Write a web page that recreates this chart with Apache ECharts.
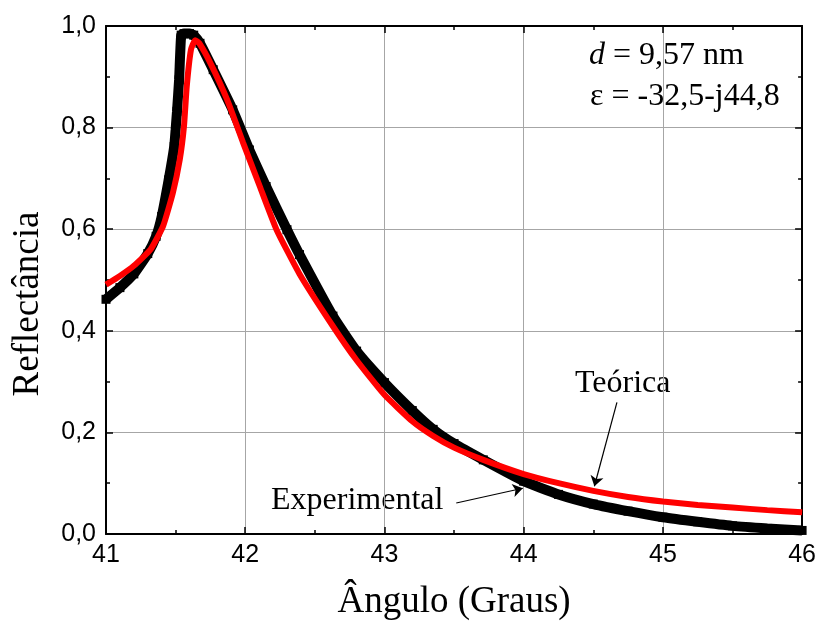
<!DOCTYPE html>
<html lang="pt">
<head>
  <meta charset="UTF-8">
  <title>Reflectância</title>
  <style>
    html, body { margin: 0; padding: 0; background: #fff; }
    #chart { width: 819px; height: 626px; }
  </style>
</head>
<body>
  <div id="chart"></div>
  <script src="https://cdn.jsdelivr.net/npm/echarts@6/dist/echarts.min.js"></script>
  <script>
    // dados
    var expAngulo = [41.00, 41.10, 41.20, 41.30, 41.36, 41.40, 41.45, 41.49, 41.50, 41.51, 41.525,
      41.54, 41.56, 41.60, 41.63, 41.675, 41.77, 41.91, 42.03, 42.15, 42.30, 42.39, 42.63, 42.80,
      43.00, 43.20, 43.35, 43.50, 43.71, 44.00, 44.25, 44.50, 44.75, 45.00, 45.25, 45.50, 45.75, 46.00];
    var expRefl = [0.462, 0.485, 0.512, 0.552, 0.586, 0.625, 0.697, 0.763, 0.796, 0.832, 0.894,
      0.982, 0.985, 0.985, 0.982, 0.966, 0.914, 0.835, 0.756, 0.684, 0.599, 0.550, 0.429, 0.360,
      0.298, 0.243, 0.206, 0.178, 0.146, 0.104, 0.078, 0.059, 0.045, 0.033, 0.024, 0.016, 0.011, 0.007];

    var teoAngulo = [41.00, 41.10, 41.20, 41.32, 41.41, 41.48, 41.53, 41.56, 41.58, 41.61, 41.64,
      41.67, 41.75, 41.87, 41.985, 42.105, 42.225, 42.39, 42.63, 42.80, 43.00, 43.20, 43.35, 43.50,
      43.71, 44.00, 44.25, 44.50, 44.75, 45.00, 45.25, 45.50, 45.75, 46.00];
    var teoRefl = [0.491, 0.508, 0.528, 0.560, 0.606, 0.671, 0.737, 0.802, 0.881, 0.953, 0.972,
      0.966, 0.927, 0.855, 0.770, 0.684, 0.599, 0.512, 0.409, 0.342, 0.274, 0.222, 0.193, 0.170,
      0.146, 0.118, 0.100, 0.085, 0.073, 0.064, 0.057, 0.052, 0.047, 0.043];

    // setas das anotações (início, ponta) em coordenadas de dados
    var setaExp = [[43.516, 0.061], [43.994, 0.090]];
    var setaTeo = [[44.67, 0.259], [44.508, 0.094]];

    function pares(xs, ys) {
      return xs.map(function (x, i) { return [x, ys[i]]; });
    }
    function virgula(v) {
      return v.toFixed(1).replace('.', ',');
    }

    var myChart = echarts.init(document.getElementById('chart'));

    var serif = '"Liberation Serif", "Times New Roman", serif';
    var sans = '"Liberation Sans", Arial, sans-serif';

    var eixoX = {
      type: 'value', min: 41, max: 46, interval: 1,
      axisLine: { onZero: false, lineStyle: { color: '#000', width: 2 } },
      axisTick: { inside: true, length: 7, lineStyle: { color: '#000', width: 1.5 } },
      minorTick: { show: true, splitNumber: 2, length: 4, lineStyle: { color: '#000', width: 1.5 } }
    };
    var eixoY = {
      type: 'value', min: 0, max: 1, interval: 0.2,
      axisLine: { onZero: false, lineStyle: { color: '#000', width: 2 } },
      axisTick: { inside: true, length: 7, lineStyle: { color: '#000', width: 1.5 } },
      minorTick: { show: true, splitNumber: 2, length: 4, lineStyle: { color: '#000', width: 1.5 } }
    };

    function seta(coords) {
      return {
        silent: true,
        symbol: ['none', 'arrow'],
        symbolSize: 10,
        label: { show: false },
        emphasis: { disabled: true },
        lineStyle: { color: '#000', width: 1.2, type: 'solid' },
        data: [[{ coord: coords[0] }, { coord: coords[1] }]]
      };
    }

    var option = {
      backgroundColor: '#fff',
      animation: false,
      grid: { left: 106, right: 16, top: 26, bottom: 91 },
      xAxis: [
        Object.assign({}, eixoX, {
          position: 'bottom',
          splitLine: { show: true, lineStyle: { color: '#a6a6a6', width: 1 } },
          axisLabel: { color: '#000', fontSize: 25, fontFamily: sans, margin: 9 },
          name: 'Ângulo (Graus)',
          nameLocation: 'middle',
          nameGap: 50,
          nameTextStyle: { color: '#000', fontSize: 37, fontFamily: serif }
        }),
        Object.assign({}, eixoX, {
          position: 'top',
          splitLine: { show: false },
          axisLabel: { show: false }
        })
      ],
      yAxis: [
        Object.assign({}, eixoY, {
          position: 'left',
          splitLine: { show: true, lineStyle: { color: '#a6a6a6', width: 1 } },
          axisLabel: { color: '#000', fontSize: 25, fontFamily: sans, margin: 10, formatter: virgula }
        }),
        Object.assign({}, eixoY, {
          position: 'right',
          splitLine: { show: false },
          axisLabel: { show: false }
        })
      ],
      series: [{
        name: 'Experimental',
        type: 'line',
        data: pares(expAngulo, expRefl),
        symbol: 'rect',
        symbolSize: 9,
        showAllSymbol: true,
        itemStyle: { color: '#000' },
        lineStyle: { color: '#000', width: 10 },
        smooth: 0.15,
        z: 2,
        markLine: seta(setaExp)
      }, {
        name: 'Teórica',
        type: 'line',
        data: pares(teoAngulo, teoRefl),
        showSymbol: false,
        lineStyle: { color: '#ff0000', width: 6 },
        smooth: 0.15,
        z: 3,
        markLine: seta(setaTeo)
      }],
      graphic: [{
        type: 'text', x: 28, y: 304, rotation: Math.PI / 2,
        style: { text: 'Reflectância', font: '37px ' + serif, fill: '#000', textAlign: 'center', textVerticalAlign: 'middle' }
      }, {
        type: 'text', x: 589, y: 56,
        style: {
          text: '{i|d} = 9,57 nm', font: '32px ' + serif, fill: '#000', textVerticalAlign: 'middle',
          rich: { i: { fontStyle: 'italic', fontSize: 32, fontFamily: serif } }
        }
      }, {
        type: 'text', x: 590, y: 97,
        style: { text: 'ε = -32,5-j44,8', font: '32px ' + serif, fill: '#000', textVerticalAlign: 'middle' }
      }, {
        type: 'text', x: 575, y: 384,
        style: { text: 'Teórica', font: '32px ' + serif, fill: '#000', textVerticalAlign: 'middle' }
      }, {
        type: 'text', x: 271, y: 501,
        style: { text: 'Experimental', font: '32px ' + serif, fill: '#000', textVerticalAlign: 'middle' }
      }]
    };

    myChart.setOption(option);
  </script>
</body>
</html>
